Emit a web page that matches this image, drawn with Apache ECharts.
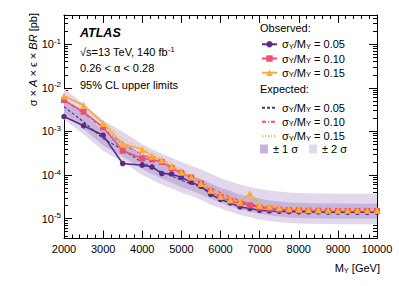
<!DOCTYPE html>
<html><head><meta charset="utf-8">
<script src="https://cdn.jsdelivr.net/npm/echarts@6/dist/echarts.min.js"></script>
<style>html,body{margin:0;padding:0;background:#fff}#c{width:399px;height:286px}</style>
</head><body><div id="c"></div>
<script>
// ---- data ----
const masses = [2000,2500,3000,3500,4000,4250,4500,4750,5000,5250,5500,5750,6000,6250,6500,6750,7000,7250,7500,7750,8000,8250,8500,8750,9000,9250,9500,9750,10000];
const obs05 = [2.2e-3,1.35e-3,8.2e-4,1.84e-4,1.68e-4,1.53e-4,1.08e-4,1.06e-4,8.8e-5,6.9e-5,5.5e-5,3.6e-5,2.75e-5,2.3e-5,1.85e-5,1.7e-5,1.55e-5,1.5e-5,1.47e-5,1.44e-5,1.43e-5,1.42e-5,1.42e-5,1.41e-5,1.41e-5,1.4e-5,1.4e-5,1.4e-5,1.4e-5];
const obs10 = [5.25e-3,2.83e-3,1.24e-3,3.6e-4,2.4e-4,2.27e-4,2.0e-4,1.45e-4,1.12e-4,8.8e-5,6.4e-5,4.3e-5,3.14e-5,2.54e-5,2.21e-5,2.02e-5,1.79e-5,1.7e-5,1.61e-5,1.57e-5,1.55e-5,1.53e-5,1.52e-5,1.51e-5,1.5e-5,1.5e-5,1.5e-5,1.5e-5,1.5e-5];
const obs15 = [6.5e-3,4.0e-3,1.53e-3,5.3e-4,3.86e-4,2.7e-4,2.2e-4,1.59e-4,1.18e-4,9.0e-5,6.4e-5,4.5e-5,3.26e-5,2.73e-5,2.41e-5,3.76e-5,2.02e-5,1.92e-5,1.79e-5,1.7e-5,1.66e-5,1.63e-5,1.6e-5,1.58e-5,1.56e-5,1.55e-5,1.55e-5,1.55e-5,1.55e-5];
const exp05 = [3.7e-3,1.66e-3,6.9e-4,3.8e-4,1.95e-4,1.5e-4,1.18e-4,9.5e-5,7.6e-5,6.3e-5,5.2e-5,4.1e-5,3.3e-5,2.75e-5,2.35e-5,2.05e-5,1.85e-5,1.7e-5,1.6e-5,1.52e-5,1.48e-5,1.46e-5,1.45e-5,1.44e-5,1.43e-5,1.43e-5,1.42e-5,1.42e-5,1.42e-5];
const exp10 = [5.3e-3,2.6e-3,1.2e-3,5.0e-4,3.0e-4,2.4e-4,1.9e-4,1.5e-4,1.15e-4,8.8e-5,6.8e-5,5.1e-5,3.9e-5,3.1e-5,2.6e-5,2.2e-5,1.95e-5,1.8e-5,1.68e-5,1.6e-5,1.56e-5,1.54e-5,1.52e-5,1.51e-5,1.5e-5,1.5e-5,1.5e-5,1.5e-5,1.5e-5];
const exp15 = [6.8e-3,3.7e-3,1.65e-3,6.8e-4,4.0e-4,3.1e-4,2.4e-4,1.8e-4,1.35e-4,1.0e-4,7.6e-5,5.7e-5,4.3e-5,3.4e-5,2.8e-5,2.4e-5,2.1e-5,1.9e-5,1.78e-5,1.7e-5,1.65e-5,1.62e-5,1.6e-5,1.58e-5,1.57e-5,1.56e-5,1.55e-5,1.55e-5,1.55e-5];
const up2 = [9.6e-3,4.3e-3,1.8e-3,9.9e-4,5.1e-4,3.9e-4,3.1e-4,2.5e-4,2.0e-4,1.64e-4,1.35e-4,1.07e-4,8.6e-5,7.2e-5,6.1e-5,5.3e-5,4.8e-5,4.4e-5,4.2e-5,4.0e-5,3.85e-5,3.8e-5,3.77e-5,3.75e-5,3.72e-5,3.72e-5,3.7e-5,3.7e-5,3.7e-5];
const up1 = [5.7e-3,2.6e-3,1.07e-3,5.9e-4,3.0e-4,2.3e-4,1.83e-4,1.47e-4,1.18e-4,9.8e-5,8.1e-5,6.4e-5,5.1e-5,4.3e-5,3.6e-5,3.2e-5,2.9e-5,2.6e-5,2.5e-5,2.36e-5,2.3e-5,2.26e-5,2.25e-5,2.23e-5,2.22e-5,2.22e-5,2.2e-5,2.2e-5,2.2e-5];
const dn1 = [2.6e-3,1.16e-3,4.8e-4,2.66e-4,1.37e-4,1.05e-4,8.3e-5,6.7e-5,5.3e-5,4.4e-5,3.6e-5,2.9e-5,2.3e-5,1.93e-5,1.65e-5,1.44e-5,1.3e-5,1.19e-5,1.12e-5,1.06e-5,1.04e-5,1.02e-5,1.02e-5,1.01e-5,1.0e-5,1.0e-5,9.9e-6,9.9e-6,9.9e-6];
const dn2 = [1.9e-3,8.6e-4,3.6e-4,2.0e-4,1.0e-4,7.8e-5,6.1e-5,4.9e-5,4.0e-5,3.3e-5,2.7e-5,2.1e-5,1.72e-5,1.43e-5,1.22e-5,1.07e-5,9.6e-6,8.8e-6,8.3e-6,7.9e-6,7.7e-6,7.6e-6,7.5e-6,7.5e-6,7.4e-6,7.4e-6,7.4e-6,7.4e-6,7.4e-6];
const xTicks = [2000,3000,4000,5000,6000,7000,8000,9000,10000];
const yMajor = [1e-5,1e-4,1e-3,1e-2,1e-1];
const yMinor = [4e-6,5e-6,6e-6,7e-6,8e-6,9e-6,2e-5,3e-5,4e-5,5e-5,6e-5,7e-5,8e-5,9e-5,2e-4,3e-4,4e-4,5e-4,6e-4,7e-4,8e-4,9e-4,2e-3,3e-3,4e-3,5e-3,6e-3,7e-3,8e-3,9e-3,2e-2,3e-2,4e-2,5e-2,6e-2,7e-2,8e-2,9e-2,2e-1,3e-1,4e-1];

const FONT = 'Liberation Sans, Arial, Helvetica, sans-serif';
const C_PUR = '#5b2a86', C_PINK = '#ee4f6e', C_ORA = '#f8ac3c';
const C_B2 = '#e1d8ec', C_B1 = '#c5b4db';

const chart = echarts.init(document.getElementById('c'), null, {renderer: 'svg'});

function bandSeries(name, upper, lower, color) {
  return {
    type: 'custom', name: name, xAxisIndex: 0, yAxisIndex: 0, z: 1, clip: true,
    itemStyle: {color: color},
    data: masses.map((m, i) => [m, upper[i], lower[i]]),
    encode: {x: 0, y: [1, 2]},
    renderItem: function (params, api) {
      if (params.dataIndex !== 0) return null;
      const pts = [];
      for (let i = 0; i < masses.length; i++) pts.push(api.coord([masses[i], upper[i]]));
      for (let i = masses.length - 1; i >= 0; i--) pts.push(api.coord([masses[i], lower[i]]));
      return {type: 'polygon', shape: {points: pts}, style: {fill: color, stroke: null}};
    }
  };
}
function lineSeries(name, vals, color, opts) {
  return Object.assign({
    type: 'line', name: name, xAxisIndex: 0, yAxisIndex: 0, z: 3,
    data: masses.map((m, i) => [m, vals[i]]),
    lineStyle: {color: color, width: 1.5},
    itemStyle: {color: color},
    animation: false
  }, opts);
}

const labelMap = {
  obs05: '0.05', obs10: '0.10', obs15: '0.15',
  exp05: '0.05', exp10: '0.10', exp15: '0.15'
};
const legRich = {
  t: {fontSize: 11, fontFamily: FONT, color: '#000', lineHeight: 12},
  sub: {fontSize: 7.5, fontFamily: FONT, color: '#000', lineHeight: 12, verticalAlign: 'bottom', padding: [5, 0, 0, 0]}
};
function legFmt(name) {
  if (labelMap[name]) return '{t|σ}{sub|Y}{t|/M}{sub|Y}{t| = ' + labelMap[name] + '}';
  return '{t|' + name + '}';
}
function oneLegend(name, left, cy, extra) {
  return Object.assign({
    data: [name], left: left, top: cy - 6, orient: 'vertical', padding: 0, itemGap: 0,
    itemWidth: 15, itemHeight: 8, selectedMode: false,
    formatter: legFmt, textStyle: {fontSize: 11, fontFamily: FONT, color: '#000', rich: legRich}
  }, extra || {});
}

const axisCommon = {
  axisLine: {show: true, lineStyle: {color: '#000', width: 1}},
  splitLine: {show: false}
};

const option = {
  animation: false,
  backgroundColor: '#fff',
  grid: {left: 64, right: 22, top: 15, bottom: 47.5, containLabel: false},
  xAxis: [
    Object.assign({}, axisCommon, {
      type: 'value', position: 'bottom', min: 2000, max: 10000, interval: 1000,
      axisTick: {show: true, inside: true, length: 8, lineStyle: {color: '#000'}},
      minorTick: {show: true, splitNumber: 5, length: 4, lineStyle: {color: '#000'}},
      axisLabel: {show: true, fontSize: 11, fontFamily: FONT, color: '#000', margin: 5,
        customValues: xTicks, formatter: v => String(v)}
    }),
    Object.assign({}, axisCommon, {
      type: 'value', position: 'top', min: 2000, max: 10000, interval: 1000,
      axisTick: {show: true, inside: true, length: 8, lineStyle: {color: '#000'}},
      minorTick: {show: true, splitNumber: 5, length: 4, lineStyle: {color: '#000'}},
      axisLabel: {show: false}
    })
  ],
  yAxis: [
    Object.assign({}, axisCommon, {
      type: 'log', logBase: 10, position: 'left', min: 3.5e-6, max: 0.47,
      axisTick: {show: true, inside: true, length: 8, customValues: yMajor, lineStyle: {color: '#000'}},
      axisLabel: {show: true, customValues: yMajor, margin: 3, fontFamily: FONT, color: '#000',
        formatter: v => '{b|10}{s|' + Math.round(Math.log10(v)) + '}',
        rich: {
          b: {fontSize: 11, fontFamily: FONT, color: '#000', lineHeight: 14},
          s: {fontSize: 8, fontFamily: FONT, color: '#000', lineHeight: 14, verticalAlign: 'top', padding: [0, 0, 7, 0]}
        }}
    }),
    Object.assign({}, axisCommon, {
      type: 'log', logBase: 10, position: 'left', min: 3.5e-6, max: 0.47,
      axisLine: {show: false},
      axisTick: {show: true, inside: true, length: 4, customValues: yMinor, lineStyle: {color: '#000'}},
      axisLabel: {show: false}
    }),
    Object.assign({}, axisCommon, {
      type: 'log', logBase: 10, position: 'right', min: 3.5e-6, max: 0.47,
      axisTick: {show: true, inside: true, length: 8, customValues: yMajor, lineStyle: {color: '#000'}},
      axisLabel: {show: false}
    }),
    Object.assign({}, axisCommon, {
      type: 'log', logBase: 10, position: 'right', min: 3.5e-6, max: 0.47,
      axisLine: {show: false},
      axisTick: {show: true, inside: true, length: 4, customValues: yMinor, lineStyle: {color: '#000'}},
      axisLabel: {show: false}
    })
  ],
  legend: [
    oneLegend('obs05', 261, 43.3),
    oneLegend('obs10', 261, 57.5),
    oneLegend('obs15', 261, 71.7),
    oneLegend('exp05', 261, 106.7, {itemStyle: {opacity: 0, borderWidth: 0}}),
    oneLegend('exp10', 261, 120.8, {itemStyle: {opacity: 0, borderWidth: 0}}),
    oneLegend('exp15', 261, 135, {itemStyle: {opacity: 0, borderWidth: 0}}),
    oneLegend('± 1 σ', 260, 149.5, {itemWidth: 8, itemHeight: 9, data: [{name: '± 1 σ', icon: 'rect'}]}),
    oneLegend('± 2 σ', 309, 149.5, {itemWidth: 8, itemHeight: 9, data: [{name: '± 2 σ', icon: 'rect'}]})
  ],
  series: [
    bandSeries('± 2 σ', up2, dn2, C_B2),
    bandSeries('± 1 σ', up1, dn1, C_B1),
    lineSeries('exp15', exp15, C_ORA, {symbol: 'none', z: 2, lineStyle: {color: C_ORA, width: 1.2, type: [1, 2]}}),
    lineSeries('exp10', exp10, C_PINK, {symbol: 'none', z: 2, lineStyle: {color: C_PINK, width: 1.1, type: [4, 2, 1, 2]}}),
    lineSeries('exp05', exp05, C_PUR, {symbol: 'none', z: 2, lineStyle: {color: C_PUR, width: 1.1, type: [3, 2]}}),
    lineSeries('obs05', obs05, C_PUR, {symbol: 'circle', symbolSize: 5.5}),
    lineSeries('obs10', obs10, C_PINK, {symbol: 'rect', symbolSize: 6}),
    lineSeries('obs15', obs15, C_ORA, {symbol: 'triangle', symbolSize: 7})
  ],
  graphic: [
    {type: 'text', x: 80, y: 33, style: {text: 'ATLAS', fontSize: 12.5, fontWeight: 'bold', fontStyle: 'italic', fontFamily: FONT, fill: '#000', align: 'left', verticalAlign: 'middle'}},
    {type: 'text', x: 80, y: 52.3, style: {text: '{n|√s=13 TeV, 140 fb}{s|-1}', align: 'left', verticalAlign: 'middle',
      rich: {n: {fontSize: 11, fontFamily: FONT, fill: '#000', lineHeight: 14}, s: {fontSize: 7.5, fontFamily: FONT, fill: '#000', lineHeight: 14, verticalAlign: 'top', padding: [0, 0, 7, 0]}}}},
    {type: 'text', x: 80, y: 67.7, style: {text: '0.26 < α < 0.28', fontSize: 11, fontFamily: FONT, fill: '#000', align: 'left', verticalAlign: 'middle'}},
    {type: 'text', x: 80, y: 85, style: {text: '95% CL upper limits', fontSize: 11, fontFamily: FONT, fill: '#000', align: 'left', verticalAlign: 'middle'}},
    {type: 'text', x: 260, y: 27.5, style: {text: 'Observed:', fontSize: 11, fontFamily: FONT, fill: '#000', align: 'left', verticalAlign: 'middle'}},
    {type: 'text', x: 260, y: 89.3, style: {text: 'Expected:', fontSize: 11, fontFamily: FONT, fill: '#000', align: 'left', verticalAlign: 'middle'}},
    {type: 'text', x: 33, y: 13, rotation: Math.PI / 2, style: {text: '{n|σ × }{i|A}{n| × ϵ × }{i|BR}{n| [pb]}', align: 'right', verticalAlign: 'middle',
      rich: {n: {fontSize: 11, fontFamily: FONT, fill: '#000'}, i: {fontSize: 11, fontFamily: FONT, fontStyle: 'italic', fill: '#000'}}}},
    {type: 'text', x: 380, y: 267.5, style: {text: '{n|M}{s|Y}{n| [GeV]}', align: 'right', verticalAlign: 'middle',
      rich: {n: {fontSize: 11, fontFamily: FONT, fill: '#000', lineHeight: 14}, s: {fontSize: 7.5, fontFamily: FONT, fill: '#000', lineHeight: 14, verticalAlign: 'bottom', padding: [5, 0, 0, 0]}}}}
  ]
};
chart.setOption(option);
</script>
</body></html>
